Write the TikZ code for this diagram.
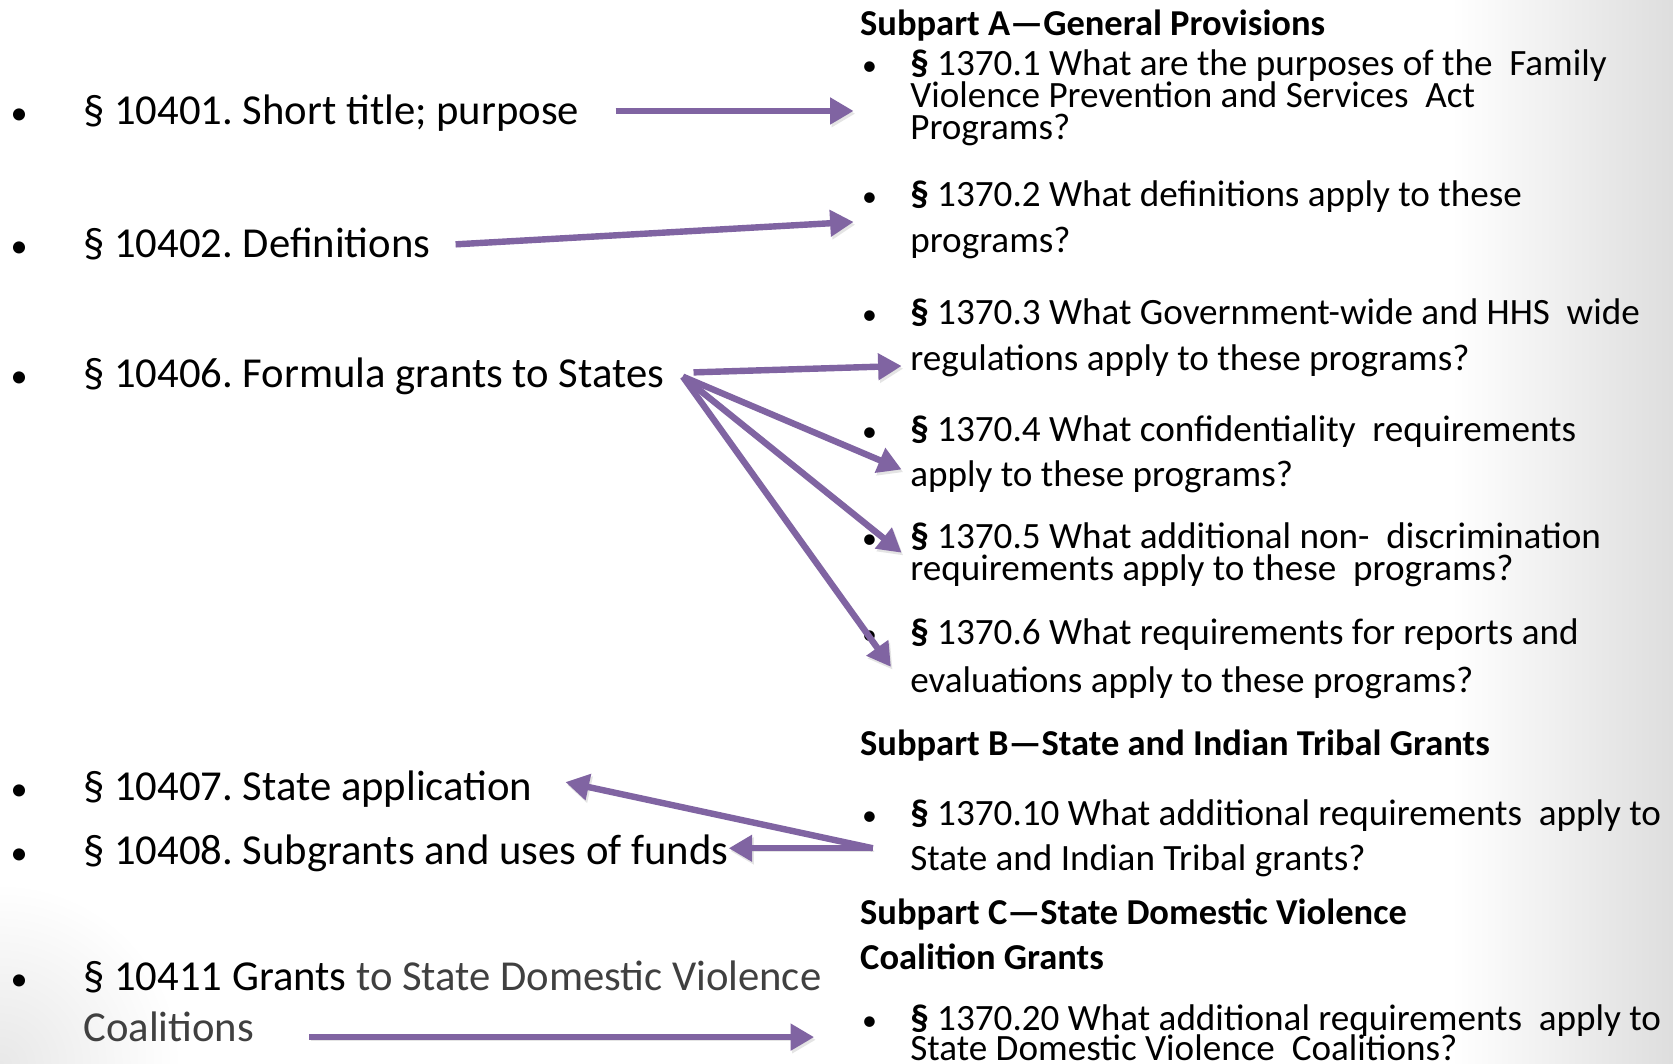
\documentclass[tikz,border=0pt]{standalone}
\usepackage{fontspec}
\setmainfont{Carlito}
\usetikzlibrary{arrows.meta}
\definecolor{arrowpurple}{HTML}{8064A2}
\definecolor{softgray}{HTML}{404040}

\begin{document}
\frenchspacing
\begin{tikzpicture}[x=1pt,y=-1pt,
  lefttext/.style={anchor=base west, inner sep=0pt, font=\fontsize{40}{48}\selectfont},
  righttext/.style={anchor=base west, inner sep=0pt, font=\fontsize{34.8}{40}\selectfont},
  headtext/.style={anchor=base west, inner sep=0pt, font=\fontsize{34.2}{40}\selectfont\bfseries},
  leftdot/.style={anchor=base, inner sep=0pt, font=\fontsize{32}{40}\selectfont},
  rightdot/.style={anchor=base, inner sep=0pt, font=\fontsize{28}{34}\selectfont},
  link/.style={draw=arrowpurple, line width=6pt, -{Triangle[length=22pt,width=24pt]},
    preaction={draw=black!30, opacity=0.35, transform canvas={shift={(1.5pt,-2.5pt)}}}},
]
% page frame and soft background
\useasboundingbox (0,0) rectangle (1568,997);
\clip (0,0) rectangle (1568,997);
\fill[white] (0,0) rectangle (1568,997);
\shade[left color=white, right color=black!13] (1360,0) rectangle (1568,997);
\shade[inner color=black!9, outer color=white] (0,997) circle (170);

% left column: statute sections
\node[leftdot] at (18,117) {•};
\node[lefttext] (l1) at (78,117) {§ 10401. Short title; purpose};
\node[leftdot] at (18,241) {•};
\node[lefttext] (l2) at (78,241) {§ 10402. Definitions};
\node[leftdot] at (18,363) {•};
\node[lefttext] (l6) at (78,363) {§ 10406. Formula grants to States};
\node[leftdot] at (18,750) {•};
\node[lefttext] (l7) at (78,750) {§ 10407. State application};
\node[leftdot] at (18,810) {•};
\node[lefttext] (l8) at (78,810) {§ 10408. Subgrants and uses of funds};
\node[leftdot] at (18,928) {•};
\node[lefttext] (l11) at (78,928) {§ 10411 Grants \textcolor{softgray}{to State Domestic Violence}};
\node[lefttext, text=softgray] (l11b) at (78,976) {Coalitions};

% right column: regulation sections
\node[headtext] (ha) at (806,33) {Subpart A—General Provisions};

\node[rightdot] at (815,71) {•};
\node[righttext] (r1a) at (853,71) {\textbf{§} 1370.1 What are the purposes of the\ \ Family};
\node[righttext] (r1b) at (853,101) {Violence Prevention and Services\ \ Act};
\node[righttext] (r1c) at (853,131) {Programs?};

\node[rightdot] at (815,194) {•};
\node[righttext] (r2a) at (853,194) {\textbf{§} 1370.2 What definitions apply to these};
\node[righttext] (r2b) at (853,237) {programs?};

\node[rightdot] at (815,304) {•};
\node[righttext] (r3a) at (853,304) {\textbf{§} 1370.3 What Government-wide and HHS\ \ wide};
\node[righttext] (r3b) at (853,347) {regulations apply to these programs?};

\node[rightdot] at (815,414) {•};
\node[righttext] (r4a) at (853,414) {\textbf{§} 1370.4 What confidentiality\ \ requirements};
\node[righttext] (r4b) at (853,456) {apply to these programs?};

\node[rightdot] at (815,514) {•};
\node[righttext] (r5a) at (853,514) {\textbf{§} 1370.5 What additional non-\ \ discrimination};
\node[righttext] (r5b) at (853,544) {requirements apply to these\ \ programs?};

\node[rightdot] at (815,604) {•};
\node[righttext] (r6a) at (853,604) {\textbf{§} 1370.6 What requirements for reports and};
\node[righttext] (r6b) at (853,649) {evaluations apply to these programs?};

\node[headtext] (hb) at (806,708) {Subpart B—State and Indian Tribal Grants};

\node[rightdot] at (815,774) {•};
\node[righttext] (r10a) at (853,774) {\textbf{§} 1370.10 What additional requirements\ \ apply to};
\node[righttext] (r10b) at (853,816) {State and Indian Tribal grants?};

\node[headtext] (hc) at (806,866) {Subpart C—State Domestic Violence};
\node[headtext] (hc2) at (806,909) {Coalition Grants};

\node[rightdot] at (815,966) {•};
\node[righttext] (r20a) at (853,966) {\textbf{§} 1370.20 What additional requirements\ \ apply to};
\node[righttext] (r20b) at (853,994) {State Domestic Violence\ \ Coalitions?};

% arrow ends
\coordinate (s1) at (577,104);  \coordinate (t1) at (800,104);
\coordinate (s2) at (427,229);  \coordinate (t2) at (800,208);
\coordinate (s6) at (650,349);  \coordinate (t3) at (845,343);
\coordinate (s6b) at (640,353); \coordinate (t4) at (845,440);
                                \coordinate (t5) at (845,518);
                                \coordinate (t6) at (835,625);
\coordinate (s10) at (818,795); \coordinate (t7) at (530,733);
                                \coordinate (t8) at (683,795);
\coordinate (s11) at (290,972); \coordinate (t9) at (763,972);

% connectors
\draw[link] (s1) -- (t1);
\draw[link] (s2) -- (t2);
\draw[link] (s6) -- (t3);
\draw[link] (s6b) -- (t4);
\draw[link] (s6b) -- (t5);
\draw[link] (s6b) -- (t6);
\draw[link] (s10) -- (t7);
\draw[link] (s10) -- (t8);
\draw[link] (s11) -- (t9);
\end{tikzpicture}
\end{document}
